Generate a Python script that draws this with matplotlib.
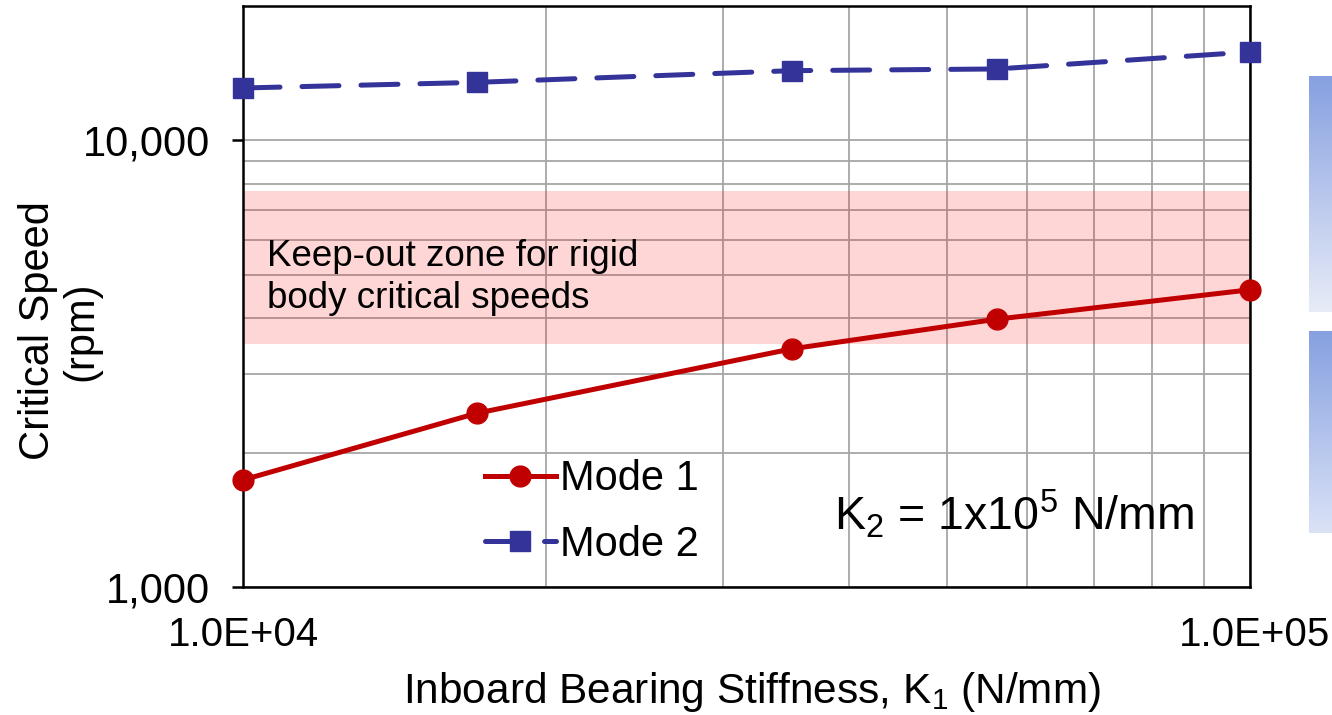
import numpy as np
import matplotlib
matplotlib.use("Agg")
import matplotlib.pyplot as plt
import matplotlib.transforms as mtransforms
from matplotlib.colors import LinearSegmentedColormap
from matplotlib.ticker import FixedLocator, NullFormatter

plt.rcParams['font.family'] = ['Liberation Sans', 'DejaVu Sans']
plt.rcParams['mathtext.fontset'] = 'custom'
plt.rcParams['mathtext.rm'] = 'Liberation Sans'
plt.rcParams['mathtext.it'] = 'Liberation Sans:italic'

# inboard bearing stiffness K1 (N/mm)
stiffness = [1.0e4, 1.706e4, 3.507e4, 5.606e4, 1.0e5]
# critical speeds (rpm)
mode1 = [1737, 2449, 3414, 3979, 4630]
mode2 = [13105, 13490, 14330, 14455, 15780]
keepout = [3500, 7700]
yticks = [1000, 10000]
ytick_labels = ["1,000", "10,000"]
xticks = [1e4, 1e5]
xtick_labels = ["1.0E+04", "1.0E+05"]

fig = plt.figure(figsize=(13.32, 7.15), dpi=100)
ax = fig.add_axes([243/1332, 1-587/715, 1007/1332, 581/715])

ax.set_xscale('log')
ax.set_yscale('log')
ax.set_xlim(1e4, 1e5)
ax.set_ylim(1000, 20000)

# grid
ax.grid(True, which='both', color='#a6a6a6', lw=1.3, zorder=0)
ax.set_axisbelow(True)

# keep-out zone
ax.axhspan(keepout[0], keepout[1], color='red', alpha=0.16, lw=0, zorder=1)
ax.text(0.024, 0.533, "Keep-out zone for rigid\nbody critical speeds", transform=ax.transAxes,
        fontsize=26.5, ha='left', va='center', linespacing=1.27, zorder=3)

ax.plot(stiffness, mode1, color='#c00000', lw=3.6, marker='o', ms=15,
        label='Mode 1', zorder=4, clip_on=False)
ax.plot(stiffness, mode2, color='#333399', lw=3.6, marker='s', ms=14.5,
        dashes=(7.4, 4.4), dash_capstyle='round', label='Mode 2', zorder=4, clip_on=False)

# ticks
ax.yaxis.set_major_locator(FixedLocator(yticks))
ax.set_yticklabels(ytick_labels)
ax.yaxis.set_minor_formatter(NullFormatter())
ax.xaxis.set_major_locator(FixedLocator(xticks))
ax.set_xticklabels(xtick_labels)
ax.xaxis.set_minor_formatter(NullFormatter())
ax.tick_params(axis='y', which='major', length=8, width=1.8, labelsize=30, pad=16, direction='out')
ax.tick_params(axis='y', which='minor', length=0)
ax.tick_params(axis='x', which='both', length=0, labelsize=29, pad=21)
for s in ax.spines.values():
    s.set_linewidth(1.8)
    s.set_color('black')

# last x label sits a little right of its tick in the original
lbl = ax.get_xticklabels()[1]
lbl.set_transform(lbl.get_transform() + mtransforms.ScaledTranslation(4/100, 0, fig.dpi_scale_trans))

fig.text(60/1332, 1-331/715, "Critical Speed\n(rpm)", rotation=90, ha='center', va='center',
         fontsize=30, multialignment='center', linespacing=1.1)
fig.text(752/1332, 1-692/715, "Inboard Bearing Stiffness, K$_1$ (N/mm)", ha='center', va='center',
         fontsize=30.5)

ax.text(0.587, 0.098, "K$_2$ = 1x10$^5$ N/mm", transform=ax.transAxes, fontsize=33.5,
        ha='left', va='baseline', zorder=3)

leg = ax.legend(loc='upper left', bbox_to_anchor=(0.24, 0.22), frameon=False, fontsize=30,
                handlelength=1.7, handletextpad=0.1, labelspacing=0.62, borderpad=0,
                borderaxespad=0)

# clipped blue gradient shapes on the right edge
cmap1 = LinearSegmentedColormap.from_list('g1', ['#86a0e0', '#e8ecf8'])
cmap2 = LinearSegmentedColormap.from_list('g2', ['#86a0e0', '#dae2f6'])
grad = np.linspace(0, 1, 256).reshape(-1, 1)
for (top, bot, cm) in [(76, 312, cmap1), (331, 533, cmap2)]:
    gax = fig.add_axes([1309/1332, 1-bot/715, 23/1332, (bot-top)/715])
    gax.imshow(grad, aspect='auto', cmap=cm)
    gax.axis('off')

fig.savefig('out.png', dpi=100)
